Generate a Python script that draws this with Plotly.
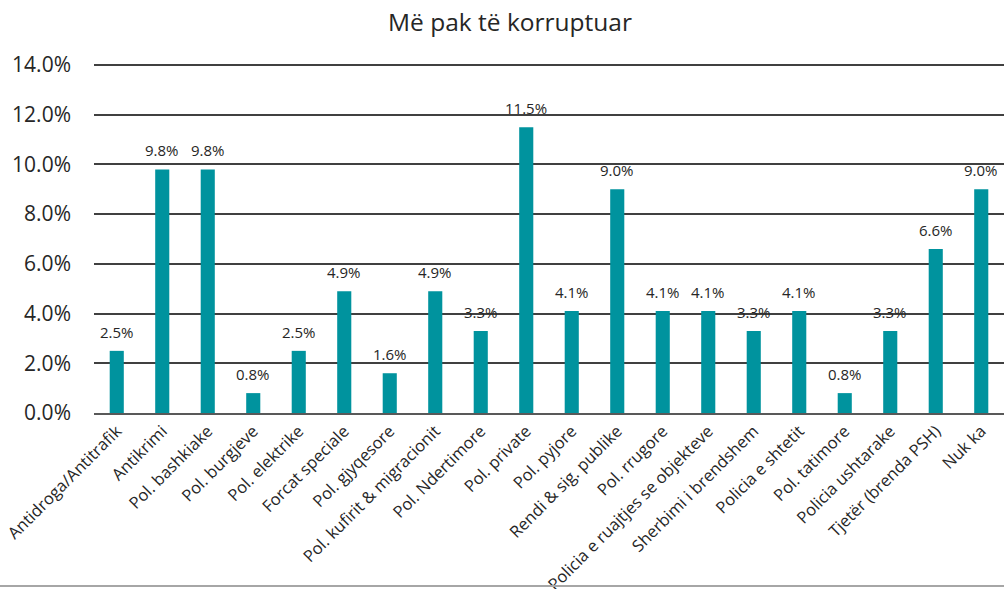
import plotly.graph_objects as go

categories = ["Antidroga/Antitrafik", "Antikrimi", "Pol. bashkiake", "Pol. burgjeve",
              "Pol. elektrike", "Forcat speciale", "Pol. gjyqesore",
              "Pol. kufirit & migracionit", "Pol. Ndertimore", "Pol. private",
              "Pol. pyjore", "Rendi & sig. publike", "Pol. rrugore",
              "Policia e ruajtjes se objekteve", "Sherbimi i brendshem",
              "Policia e shtetit", "Pol. tatimore", "Policia ushtarake",
              "Tjetër (brenda PSH)", "Nuk ka"]
values = [2.5, 9.8, 9.8, 0.8, 2.5, 4.9, 1.6, 4.9, 3.3, 11.5,
          4.1, 9.0, 4.1, 4.1, 3.3, 4.1, 0.8, 3.3, 6.6, 9.0]
y_ticks = [0, 2, 4, 6, 8, 10, 12, 14]

FONT = "Open Sans"
BAR = "#00939E"
TXT = "#262626"

# plot area: 0% at y=413 px, 14% at y=65 px; leave a little room above top gridline
TOP, BOT = 59, 176
plot_h = 589 - TOP - BOT
y_max = 0.14 * plot_h / 348

fig = go.Figure(go.Bar(
    x=categories, y=[v / 100 for v in values],
    marker=dict(color=BAR, line=dict(width=0)),
    width=0.31, cliponaxis=False, hoverinfo="skip",
))

for c, v in zip(categories, values):
    fig.add_annotation(x=c, y=v / 100, text=f"{v:.1f}%", showarrow=False,
                       yanchor="bottom", yshift=7,
                       font=dict(family=FONT, size=15, color=TXT))

fig.update_layout(
    width=1004, height=589,
    margin=dict(l=94, r=0, t=TOP, b=BOT, autoexpand=False),
    paper_bgcolor="white", plot_bgcolor="white",
    title=dict(text="Më pak të korruptuar", x=0.508, xanchor="center", xref="container",
               y=1 - 22 / 589, yanchor="middle", yref="container",
               font=dict(family=FONT, size=24.5, color=TXT)),
    showlegend=False,
    xaxis=dict(tickangle=-45, tickfont=dict(family=FONT, size=16.5, color=TXT),
               showgrid=False, showline=True, linecolor="#595959", linewidth=2,
               ticks="", automargin=False),
    yaxis=dict(range=[0, y_max], tickvals=[t / 100 for t in y_ticks],
               ticktext=[f"{t:.1f}%" for t in y_ticks],
               tickfont=dict(family=FONT, size=21, color=TXT),
               showgrid=True, gridcolor="#404040", gridwidth=1.5,
               zeroline=False, showline=False, ticks="", ticklabelstandoff=22,
               automargin=False),
    shapes=[dict(type="line", xref="paper", yref="paper",
                 x0=-94 / 910, x1=1, y0=-173 / plot_h, y1=-173 / plot_h,
                 line=dict(color="#A6A6A6", width=2))],
)

fig.write_html("out.html", config={"displayModeBar": False},
               post_script="document.body.style.margin='0';document.body.style.padding='0';")
